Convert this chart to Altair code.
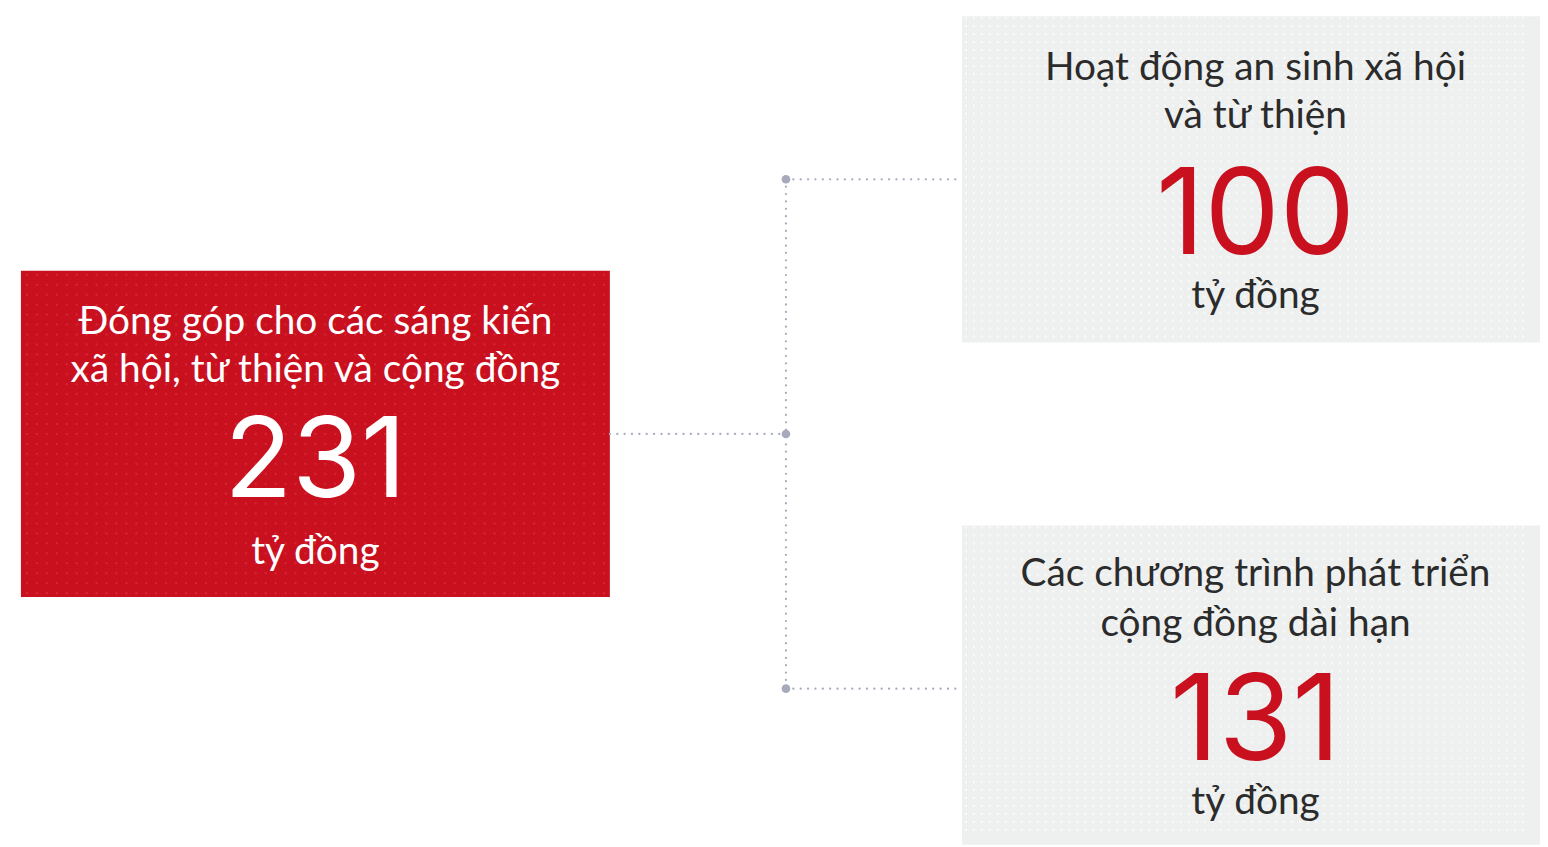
import altair as alt
import numpy as np
import pandas as pd

# ---- chart content ----
titles_l1 = ["Đóng góp cho các sáng kiến", "Hoạt động an sinh xã hội", "Các chương trình phát triển"]
titles_l2 = ["xã hội, từ thiện và cộng đồng", "và từ thiện", "cộng đồng dài hạn"]
values = [231, 100, 131]
units = ["tỷ đồng", "tỷ đồng", "tỷ đồng"]

# ---- layout (page pixel coordinates) ----
box_x0 = [21, 967, 967]
box_x1 = [613, 1548, 1548]
box_y0 = [270, 14, 526]
box_y1 = [598, 342, 847]
box_fill = ["#C8101F", "#EEEFEF", "#EEEFEF"]
dot_fill = ["#D92738", "#FAFAFA", "#FAFAFA"]
dot_step = [10, 8, 8]
dot_off = [6, 4, 4]
label_color = ["#FFFFFF", "#2B2B2B", "#2B2B2B"]
num_color = ["#FFFFFF", "#C8101F", "#C8101F"]
center_x = [317, 1262, 1262]
l1_y = [334, 78, 587]
l2_y = [382, 126, 637]
num_y = [497, 253, 762]
unit_y = [565, 307, 816]
num_size = [112, 120, 120]
label_size = 39

conn_x = [613, 790, 790, 790]
conn_x2 = [790, 790, 967, 967]
conn_y = [434, 178, 178, 690]
conn_y2 = [434, 690, 178, 690]
node_x = [790, 790, 790]
node_y = [178, 434, 690]
conn_color = "#A6AABB"

W, H = 1532, 831
xs = alt.Scale(domain=[8, 8 + W], nice=False, zero=False)
ys = alt.Scale(domain=[8, 8 + H], nice=False, zero=False, reverse=True)

boxes = pd.DataFrame({"x0": box_x0, "x1": box_x1, "y0": box_y0, "y1": box_y1, "fill": box_fill})
rects = alt.Chart(boxes).mark_rect().encode(
    x=alt.X("x0:Q", scale=xs, axis=None),
    x2="x1:Q",
    y=alt.Y("y0:Q", scale=ys, axis=None),
    y2="y1:Q",
    color=alt.Color("fill:N", scale=None),
)

# decorative dot texture inside each box
tex = []
for i in range(3):
    gx = np.arange(box_x0[i] + dot_off[i], min(box_x1[i], 8 + W) - 2, dot_step[i])
    gy = np.arange(box_y0[i] + dot_off[i] - 2, min(box_y1[i], 8 + H) - 2, dot_step[i])
    mx, my = np.meshgrid(gx, gy)
    tex.append(pd.DataFrame({"x": mx.ravel(), "y": my.ravel(), "c": dot_fill[i]}))
tex_df = pd.concat(tex, ignore_index=True)
texture = alt.Chart(tex_df).mark_square(size=4, opacity=1).encode(
    x=alt.X("x:Q", scale=xs, axis=None),
    y=alt.Y("y:Q", scale=ys, axis=None),
    color=alt.Color("c:N", scale=None),
)

conns = pd.DataFrame({"x": conn_x, "x2": conn_x2, "y": conn_y, "y2": conn_y2})
rules = alt.Chart(conns).mark_rule(
    color=conn_color, strokeWidth=2.2, strokeDash=[0.1, 7.3], strokeCap="round"
).encode(
    x=alt.X("x:Q", scale=xs, axis=None), x2="x2:Q",
    y=alt.Y("y:Q", scale=ys, axis=None), y2="y2:Q",
)

nodes = pd.DataFrame({"x": node_x, "y": node_y})
dots = alt.Chart(nodes).mark_circle(size=75, color=conn_color, opacity=1).encode(
    x=alt.X("x:Q", scale=xs, axis=None),
    y=alt.Y("y:Q", scale=ys, axis=None),
)

lab_rows, num_rows = [], []
for i in range(3):
    lab_rows.append({"x": center_x[i], "y": l1_y[i], "t": titles_l1[i], "c": label_color[i]})
    lab_rows.append({"x": center_x[i], "y": l2_y[i], "t": titles_l2[i], "c": label_color[i]})
    lab_rows.append({"x": center_x[i], "y": unit_y[i], "t": units[i], "c": label_color[i]})
    num_rows.append({"x": center_x[i], "y": num_y[i], "t": str(values[i]), "c": num_color[i], "s": num_size[i]})

labels = alt.Chart(pd.DataFrame(lab_rows)).mark_text(
    font="Lato", fontSize=label_size, align="center", baseline="alphabetic"
).encode(
    x=alt.X("x:Q", scale=xs, axis=None),
    y=alt.Y("y:Q", scale=ys, axis=None),
    text="t:N",
    color=alt.Color("c:N", scale=None),
)

numbers = alt.Chart(pd.DataFrame(num_rows)).mark_text(
    font="Inter", align="center", baseline="alphabetic"
).encode(
    x=alt.X("x:Q", scale=xs, axis=None),
    y=alt.Y("y:Q", scale=ys, axis=None),
    text="t:N",
    color=alt.Color("c:N", scale=None),
    size=alt.Size("s:Q", scale=None),
)

chart = alt.layer(rects, texture, rules, dots, labels, numbers).properties(
    width=W, height=H, padding=0, background="#FFFFFF",
).configure_view(stroke=None)

chart.save("out.html", embed_options={"renderer": "svg", "actions": False})
